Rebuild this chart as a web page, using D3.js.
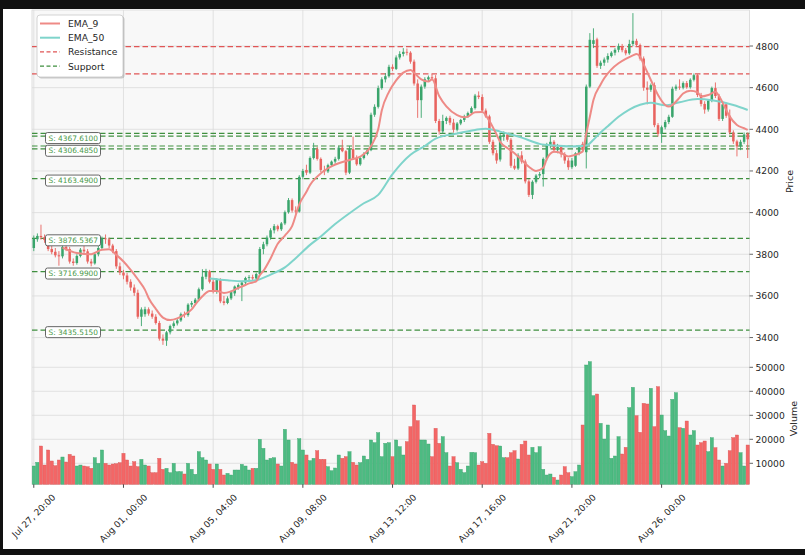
<!DOCTYPE html>
<html>
<head>
<meta charset="utf-8">
<script src="https://cdn.jsdelivr.net/npm/d3@7/dist/d3.min.js"></script>
<style>
  body { margin:0; background:#fff; }
  svg { display:block; font-family:"DejaVu Sans", sans-serif; }
</style>
</head>
<body>
<svg id="chart" width="805" height="555"></svg>
<script>
// ---------------------------------------------- DATA --------------------------------------------------
// 4h candles, index 0 = Jul 27 20:00
var opens = [
 3830,3872,3888,3882,3868,3825,3812,3795,3790,3835, 3825,3765,3758,3792,3822,3814,3765,3756,3800,3830,
 3876,3872,3842,3815,3742,3712,3698,3668,3640,3615, 3500,3512,3536,3515,3500,3470,3395,3385,3425,3455,
 3468,3482,3512,3508,3558,3566,3582,3632,3692,3718, 3668,3622,3676,3574,3566,3588,3612,3640,3652,3664,
 3686,3690,3684,3705,3825,3848,3880,3915,3935,3920, 3948,4002,4060,4010,4005,4172,4205,4192,4262,4305,
 4258,4205,4198,4228,4245,4258,4312,4295,4192,4305, 4262,4232,4262,4282,4300,4470,4508,4598,4640,4655,
 4700,4690,4745,4762,4772,4768,4725,4620,4540,4605, 4640,4650,4645,4440,4390,4440,4455,4432,4398,4428,
 4445,4462,4478,4502,4562,4555,4490,4462,4340,4285, 4255,4368,4375,4350,4225,4212,4275,4245,4150,4085,
 4148,4178,4185,4258,4325,4340,4300,4315,4280,4250, 4218,4225,4285,4330,4290,4605,4810,4832,4705,4720,
 4735,4752,4768,4782,4800,4780,4765,4810,4825,4805, 4740,4600,4590,4612,4420,4378,4410,4435,4460,4595,
 4605,4600,4622,4602,4638,4660,4565,4522,4495,4538, 4598,4560,4450,4520,4465,4385,4342,4318,4340,4380];
var highs = [
 3890,3900,3942,3895,3875,3840,3830,3815,3845,3850, 3835,3780,3800,3830,3840,3825,3778,3810,3840,3885,
 3895,3880,3850,3825,3760,3725,3710,3680,3655,3630, 3545,3548,3545,3530,3512,3480,3415,3432,3462,3478,
 3490,3520,3525,3565,3575,3590,3640,3728,3730,3725, 3680,3685,3685,3600,3598,3625,3650,3660,3672,3692,
 3700,3702,3712,3835,3860,3890,3925,3945,3942,3955, 4010,4070,4068,4030,4180,4210,4230,4270,4335,4315,
 4265,4225,4235,4250,4268,4320,4350,4300,4320,4365, 4275,4268,4290,4310,4480,4520,4610,4650,4670,4710,
 4712,4755,4775,4790,4788,4775,4735,4640,4615,4650, 4658,4665,4660,4450,4470,4462,4465,4450,4435,4450,
 4470,4485,4510,4570,4582,4568,4500,4470,4350,4300, 4380,4390,4382,4358,4258,4285,4295,4255,4160,4155,
 4185,4195,4265,4335,4370,4348,4330,4322,4290,4262, 4262,4290,4325,4340,4615,4862,4885,4840,4730,4745,
 4765,4775,4790,4812,4810,4790,4830,4958,4835,4812, 4750,4630,4620,4625,4430,4418,4445,4470,4605,4615,
 4640,4630,4632,4645,4668,4665,4575,4535,4545,4605, 4625,4570,4530,4528,4495,4395,4350,4350,4385,4385];
var lows = [
 3815,3860,3870,3855,3815,3800,3785,3745,3780,3815, 3755,3745,3750,3785,3805,3755,3742,3750,3790,3820,
 3850,3830,3805,3730,3700,3680,3655,3625,3600,3490, 3455,3500,3505,3490,3462,3385,3365,3360,3415,3445,
 3458,3475,3495,3500,3545,3555,3575,3625,3680,3660, 3612,3610,3565,3555,3560,3580,3600,3630,3575,3650,
 3672,3672,3676,3700,3800,3838,3870,3900,3910,3912, 3940,3995,4000,3995,4000,4160,4180,4185,4255,4250,
 4195,4180,4190,4220,4235,4250,4290,4180,4185,4255, 4225,4225,4255,4275,4295,4460,4500,4590,4625,4648,
 4680,4685,4735,4750,4755,4715,4610,4455,4455,4595, 4628,4635,4430,4375,4380,4425,4420,4385,4390,4420,
 4435,4455,4470,4495,4545,4480,4455,4330,4275,4235, 4245,4345,4340,4215,4205,4205,4235,4140,4075,4065,
 4140,4165,4125,4250,4310,4290,4285,4265,4235,4205, 4210,4220,4275,4290,4212,4598,4790,4695,4690,4705,
 4720,4745,4755,4770,4770,4755,4758,4800,4795,4730, 4585,4520,4580,4410,4365,4335,4400,4425,4455,4585,
 4590,4592,4595,4595,4630,4555,4510,4475,4485,4530, 4550,4440,4440,4455,4375,4330,4270,4300,4330,4262];
var closes = [
 3876,3888,3882,3868,3825,3810,3795,3790,3835,3822, 3765,3758,3792,3822,3814,3765,3756,3800,3830,3876,
 3872,3842,3815,3742,3712,3698,3668,3640,3615,3500, 3535,3536,3515,3500,3470,3395,3385,3425,3455,3468,
 3482,3512,3508,3558,3566,3582,3632,3692,3718,3668, 3622,3676,3574,3566,3588,3618,3645,3652,3664,3686,
 3690,3684,3705,3825,3848,3880,3915,3935,3920,3948, 4002,4060,4010,4005,4172,4200,4192,4262,4310,4258,
 4205,4198,4228,4245,4258,4312,4295,4192,4305,4262, 4232,4262,4282,4300,4470,4508,4598,4640,4655,4700,
 4690,4745,4762,4772,4768,4725,4620,4540,4605,4640, 4650,4645,4440,4390,4440,4455,4432,4398,4428,4445,
 4462,4478,4502,4562,4555,4490,4462,4340,4285,4250, 4368,4375,4350,4225,4212,4275,4245,4150,4085,4148,
 4178,4185,4258,4325,4340,4300,4315,4280,4250,4218, 4250,4285,4316,4300,4605,4830,4828,4705,4720,4735,
 4752,4768,4782,4800,4780,4765,4810,4825,4805,4740, 4600,4590,4612,4420,4378,4410,4435,4460,4595,4605,
 4600,4622,4602,4638,4660,4565,4522,4495,4538,4598, 4560,4450,4520,4465,4385,4342,4318,4340,4375,4352];
var volumes = [
 8870,10400,17200,9290,15540,10960,9000,11370,12620,10540, 13730,13040,8870,9290,8870,8600,7900,12340,9980,15540,
 9980,9290,9700,9840,10260,14150,11370,8870,10670,8600, 11650,9290,8870,6090,6090,12070,7480,7900,6090,9980,
 6510,6510,5540,9980,7480,5400,14840,12340,11370,9700, 7480,9700,7480,5120,5810,5120,7200,7200,9560,8870,
 7200,7900,7900,19980,16230,11370,12070,12340,9700,8870, 24150,19710,10400,9700,20260,15540,13460,11090,12070,15260,
 11650,11650,8600,6920,8040,13460,12070,12760,14840,10400, 9290,10260,13040,11650,19710,18600,22760,12760,18320,18600,
 12760,19710,16930,13460,19010,25260,34290,27760,19710,19710, 18040,12760,24570,18320,21100,14430,8870,12760,10260,7480,
 6090,8870,14570,14430,9290,10670,9980,22480,17900,17340, 17200,12340,12340,14430,15260,11790,17900,19290,13460,16650,
 14430,16930,7480,5120,5540,4150,3040,5120,8600,6090, 4430,6510,9290,25960,50960,52350,38180,38870,26650,20120,
 25960,12070,13040,21100,13870,16650,33180,41650,29840,22900, 34980,34710,41230,25260,41930,30120,23600,21370,36650,39430,
 24850,24570,27620,21790,23600,17620,18600,19290,14840,20680, 16510,11370,8870,9980,15260,20680,21790,14430,8870,17620];

// EMA readings [candle index, value]
var ema9 = [[8,3832],[12,3806],[16,3800],[19,3822],[21,3824],[23,3797],[25,3765],[27,3725],[29,3680],[31,3629],
 [32,3590],[34,3538],[36,3496],[38,3484],[40,3492],[42,3510],[44,3535],[45,3558],[47,3598],[49,3624],[51,3624],
 [53,3614],[55,3622],[57,3638],[58,3645],[60,3660],[62,3670],[63,3700],[64,3720],[66,3780],[68,3850],[70,3890],
 [72,3935],[74,4040],[76,4100],[77,4133],[79,4173],[82,4213],[85,4237],[88,4253],[91,4269],[94,4320],[96,4400],
 [97,4490],[99,4580],[101,4635],[103,4672],[105,4685],[106,4672],[108,4640],[110,4630],[111,4640],[113,4560],
 [115,4510],[118,4468],[120,4458],[121,4461],[123,4482],[125,4483],[127,4440],[129,4375],[130,4340],[132,4310],
 [134,4285],[136,4253],[138,4220],[140,4200],[142,4215],[143,4258],[145,4292],[147,4286],[149,4270],[151,4278],
 [153,4293],[154,4380],[155,4460],[156,4541],[158,4615],[159,4645],[161,4688],[163,4717],[165,4738],[167,4755],
 [168,4762],[169,4749],[170,4712],[172,4637],[174,4565],[176,4517],[177,4509],[180,4552],[181,4572],[183,4585],
 [185,4578],[186,4558],[188,4565],[190,4580],[191,4560],[193,4493],[194,4461],[196,4421],[198,4405],[199,4397]];
var ema50 = [[49,3684],[54,3675],[58,3670],[62,3675],[66,3702],[70,3737],[73,3781],[77,3845],[80,3885],[84,3945],
 [88,3997],[92,4045],[96,4085],[100,4185],[105,4278],[109,4320],[112,4355],[118,4380],[123,4397],[126,4403],
 [130,4389],[136,4360],[141,4330],[145,4322],[150,4318],[154,4322],[156,4350],[158,4385],[160,4415],[163,4460],
 [166,4495],[169,4518],[172,4528],[176,4515],[180,4530],[185,4545],[189,4540],[195,4517],[199,4493]];

var resistances = [4797, 4666];
var supports = [4380.2, 4367.61, 4319.8, 4306.485, 4163.49, 3876.5367, 3716.99, 3435.515];
var supportLabels = [4367.61, 4306.485, 4163.49, 3876.5367, 3716.99, 3435.515];

var xTickIndex = [0, 25, 50, 75, 100, 125, 150, 175];
var xTickLabels = ["Jul 27, 20:00","Aug 01, 00:00","Aug 05, 04:00","Aug 09, 08:00",
                   "Aug 13, 12:00","Aug 17, 16:00","Aug 21, 20:00","Aug 26, 00:00"];
var priceTicks = [3400, 3600, 3800, 4000, 4200, 4400, 4600, 4800];
var volumeTicks = [10000, 20000, 30000, 40000, 50000];

// ---------------------------------------------- LAYOUT --------------------------------------------------
var PLOT_LEFT = 32, PLOT_RIGHT = 749.5;
var PRICE_TOP = 10, PANEL_SPLIT = 349, VOL_BOTTOM = 484.3;

var COLOR_UP = "#3aa56c", COLOR_DOWN = "#e8635f";
var COLOR_VOL_UP = "#4dbb82", COLOR_VOL_DOWN = "#f36666";

var svg = d3.select("#chart");

var x = d3.scaleLinear().domain([-0.5, closes.length - 0.5]).range([PLOT_LEFT, PLOT_RIGHT]);
var yP = d3.scaleLinear().domain([3345, 4973]).range([PANEL_SPLIT, PRICE_TOP]);
var yV = d3.scaleLinear().domain([1250, 57625]).range([VOL_BOTTOM, PANEL_SPLIT]);

var candles = closes.map(function(c, i){
	return {i:i, o:opens[i], h:highs[i], l:lows[i], c:c, v:volumes[i], up:c >= opens[i]};
});

// background + grid
svg.append("rect").attr("x",PLOT_LEFT).attr("y",PRICE_TOP)
	.attr("width",PLOT_RIGHT-PLOT_LEFT).attr("height",VOL_BOTTOM-PRICE_TOP)
	.style("fill","#f8f8f8").style("stroke","#d6d6d6").style("stroke-width",0.8);

var gGrid = svg.append("g").attr("id","grid");
xTickIndex.forEach(function(t){
	_drawLine(gGrid, x(t), PRICE_TOP, x(t), VOL_BOTTOM, "#dadada", 0.8);
});
priceTicks.forEach(function(t){
	_drawLine(gGrid, PLOT_LEFT, yP(t), PLOT_RIGHT, yP(t), "#dadada", 0.8);
});
volumeTicks.forEach(function(t){
	_drawLine(gGrid, PLOT_LEFT, yV(t), PLOT_RIGHT, yV(t), "#dadada", 0.8);
});

// ---------------------------------------------- VOLUME --------------------------------------------------
var barW = (x(1) - x(0)) * 0.9;
svg.append("g").attr("id","volume").selectAll("rect")
	.data(candles).enter().append("rect")
	.attr("x", function(d){ return x(d.i) - barW/2; })
	.attr("y", function(d){ return yV(d.v); })
	.attr("width", barW)
	.attr("height", function(d){ return VOL_BOTTOM - yV(d.v); })
	.style("fill", function(d){ return d.up ? COLOR_VOL_UP : COLOR_VOL_DOWN; })
	.style("stroke", function(d){ return d.up ? "#3aa36d" : "#d95656"; })
	.style("stroke-width", 0.4);

// ---------------------------------------------- LEVELS --------------------------------------------------
var gLevels = svg.append("g").attr("id","levels");
resistances.forEach(function(r){
	_drawLine(gLevels, PLOT_LEFT, yP(r), PLOT_RIGHT, yP(r), "#e05555", 1.2, "5.5,3");
});
supports.forEach(function(s){
	_drawLine(gLevels, PLOT_LEFT, yP(s), PLOT_RIGHT, yP(s), "#3f8f3f", 1.2, "5.5,3");
});

// ---------------------------------------------- CANDLES --------------------------------------------------
var bodyW = (x(1) - x(0)) * 0.7;
var gCandles = svg.append("g").attr("id","candles");
gCandles.selectAll("line").data(candles).enter().append("line")
	.attr("x1", function(d){ return x(d.i); }).attr("x2", function(d){ return x(d.i); })
	.attr("y1", function(d){ return yP(d.h); }).attr("y2", function(d){ return yP(d.l); })
	.style("stroke", function(d){ return d.up ? COLOR_UP : COLOR_DOWN; })
	.style("stroke-width", 0.9);
gCandles.selectAll("rect").data(candles).enter().append("rect")
	.attr("x", function(d){ return x(d.i) - bodyW/2; })
	.attr("y", function(d){ return yP(Math.max(d.o, d.c)); })
	.attr("width", bodyW)
	.attr("height", function(d){ return Math.max(0.8, Math.abs(yP(d.o) - yP(d.c))); })
	.style("fill", function(d){ return d.up ? COLOR_UP : COLOR_DOWN; });

// ---------------------------------------------- EMA --------------------------------------------------
var emaLine = d3.line()
	.x(function(d){ return x(d[0]); })
	.y(function(d){ return yP(d[1]); })
	.curve(d3.curveMonotoneX);
svg.append("path").datum(ema50).attr("d", emaLine)
	.style("fill","none").style("stroke","#7fd4cb").style("stroke-width",2);
svg.append("path").datum(ema9).attr("d", emaLine)
	.style("fill","none").style("stroke","#ee8a86").style("stroke-width",2);

// support labels
var gLabels = svg.append("g").attr("id","supportLabels");
supportLabels.forEach(function(s){
	var _y = yP(s) + 2;
	gLabels.append("rect").attr("x",45.5).attr("y",_y-5.5).attr("width",55).attr("height",11)
		.attr("rx",2).style("fill","#fff").style("stroke","#555").style("stroke-width",0.9);
	gLabels.append("text").text("S: " + s.toFixed(4))
		.attr("x",48.5).attr("y",_y).attr("dominant-baseline","central")
		.style("font-size","7.4px").style("fill","#4a9a4a");
});

// ---------------------------------------------- AXES --------------------------------------------------
var gAxis = svg.append("g").attr("id","axes");
priceTicks.forEach(function(t){ _drawYTick(gAxis, yP(t), t); });
volumeTicks.forEach(function(t){ _drawYTick(gAxis, yV(t), t); });

xTickIndex.forEach(function(t, k){
	_drawLine(gAxis, x(t), VOL_BOTTOM, x(t), VOL_BOTTOM + 3.5, "#333", 0.9);
	var _t = gAxis.append("text").text(xTickLabels[k])
		.attr("text-anchor","middle").attr("dominant-baseline","central")
		.style("font-size","9px").style("fill","#262626");
	var _len = _t.node().getComputedTextLength();
	var _cy = 493 + (_len + 8) * 0.3536;
	_t.attr("transform","translate(" + x(t) + "," + _cy + ") rotate(-45)");
});

_drawAxisTitle(gAxis, "Price", 789, (PRICE_TOP + PANEL_SPLIT) / 2 + 2);
_drawAxisTitle(gAxis, "Volume", 793, (PANEL_SPLIT + VOL_BOTTOM) / 2 + 2);

// ---------------------------------------------- LEGEND --------------------------------------------------
var gLegend = svg.append("g").attr("id","legend");
gLegend.append("rect").attr("x",38.5).attr("y",16.5).attr("width",86).attr("height",62).attr("rx",3)
	.style("fill","#9a9a9a").style("opacity",0.5);
gLegend.append("rect").attr("x",37).attr("y",15).attr("width",86).attr("height",62).attr("rx",3)
	.style("fill","#fff").style("stroke","#c8c8c8").style("stroke-width",0.8);
var legendItems = [
	{text:"EMA_9", color:"#ee8a86", dash:null, w:2},
	{text:"EMA_50", color:"#7fd4cb", dash:null, w:2},
	{text:"Resistance", color:"#e05555", dash:"4,2.5", w:1.2},
	{text:"Support", color:"#3f8f3f", dash:"4,2.5", w:1.2}
];
legendItems.forEach(function(d, k){
	var _y = 23.5 + k * 14.2;
	_drawLine(gLegend, 40, _y, 60, _y, d.color, d.w, d.dash);
	gLegend.append("text").text(d.text).attr("x",68).attr("y",_y).attr("dominant-baseline","central")
		.style("font-size","9.2px").style("fill","#262626");
});

// screenshot frame
svg.append("rect").attr("x",0).attr("y",0).attr("width",805).attr("height",9).style("fill","#111");
svg.append("rect").attr("x",0).attr("y",0).attr("width",3).attr("height",555).style("fill","#111");
svg.append("rect").attr("x",0).attr("y",549).attr("width",805).attr("height",6).style("fill","#111");

/* ------------------------------------------------- helper functions ----------------------------------------------------------- */
function _drawLine(g, x1, y1, x2, y2, color, width, dash){
	var _l = g.append("line").attr("x1",x1).attr("y1",y1).attr("x2",x2).attr("y2",y2)
		.style("stroke",color).style("stroke-width",width);
	if (dash) _l.style("stroke-dasharray",dash);
	return _l;
}

function _drawYTick(g, y, value){
	_drawLine(g, PLOT_RIGHT, y, PLOT_RIGHT + 3.5, y, "#555", 0.9);
	g.append("text").text(value).attr("x",PLOT_RIGHT + 6).attr("y",y)
		.attr("dominant-baseline","central")
		.style("font-size","9.2px").style("fill","#262626");
}

function _drawAxisTitle(g, text, cx, cy){
	g.append("text").text(text).attr("text-anchor","middle").attr("dominant-baseline","central")
		.attr("transform","translate(" + cx + "," + cy + ") rotate(-90)")
		.style("font-size","9.5px").style("fill","#262626");
}
</script>
</body>
</html>
